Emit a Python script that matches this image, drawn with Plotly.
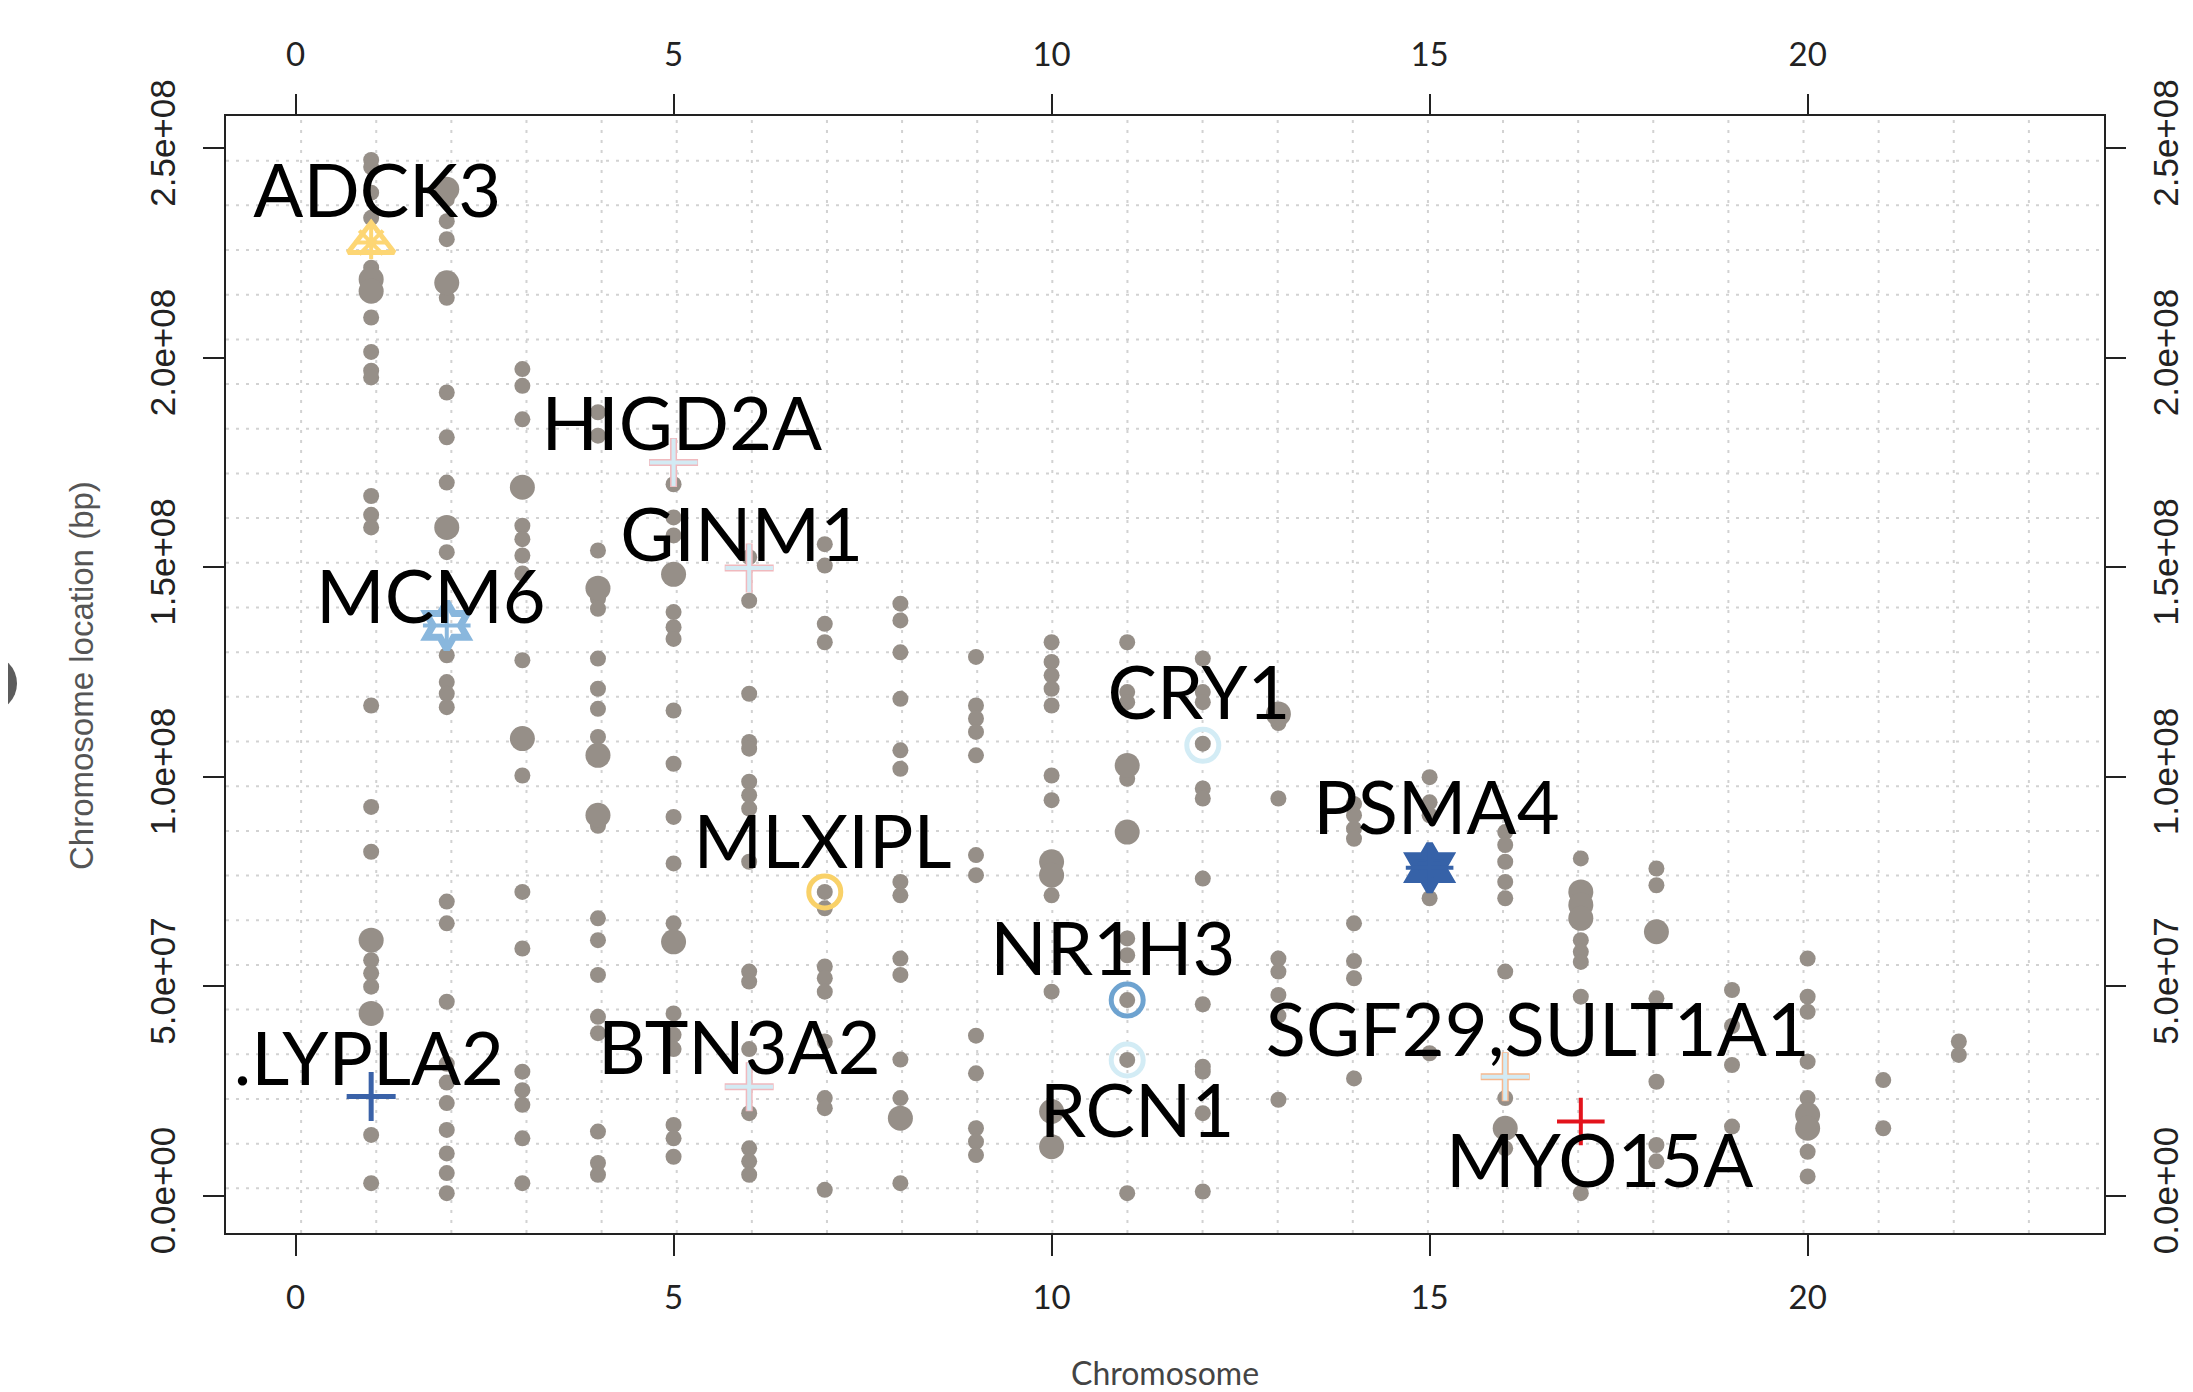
import plotly.graph_objects as go

# ---------------- data ----------------
# background loci per chromosome (position in Mb); "small" and "large" dots
small_mb = [
    [247.2, 245.5, 239.4, 233.4, 221.5, 209.6, 201.4, 196.9, 195.3, 167.0, 162.5, 159.5, 117.0, 92.8, 82.1, 56.2, 53.1, 49.9, 14.5, 3.0],
    [237.8, 232.6, 228.3, 214.3, 191.7, 181.0, 170.2, 153.6, 129.0, 122.6, 119.8, 116.6, 70.2, 65.0, 46.3, 31.5, 27.0, 22.1, 15.7, 10.1, 5.4, 0.6],
    [197.3, 193.3, 185.3, 159.9, 156.7, 152.8, 148.5, 127.8, 100.3, 72.5, 59.0, 29.6, 25.2, 21.7, 13.7, 3.0],
    [187.0, 181.4, 154.0, 142.5, 140.1, 128.2, 121.0, 116.2, 109.5, 88.3, 66.2, 61.0, 52.7, 42.7, 38.8, 15.3, 7.8, 5.0],
    [169.8, 161.9, 157.6, 139.3, 135.7, 132.9, 115.8, 103.1, 90.4, 79.3, 65.0, 43.5, 38.4, 35.0, 16.9, 13.7, 9.3],
    [152.4, 142.0, 119.8, 108.3, 106.7, 98.8, 95.6, 92.4, 79.7, 53.5, 51.1, 35.0, 19.7, 11.3, 8.2, 5.0],
    [155.5, 150.4, 136.5, 132.1, 72.5, 68.6, 54.7, 51.9, 48.7, 36.8, 23.3, 20.9, 1.4],
    [141.3, 137.3, 129.7, 118.6, 106.3, 101.9, 74.9, 71.7, 56.6, 52.7, 32.5, 23.3, 3.0],
    [128.6, 117.0, 113.9, 110.7, 105.1, 81.3, 76.5, 38.2, 29.2, 16.1, 12.9, 9.7],
    [132.1, 127.4, 124.2, 121.0, 117.0, 100.3, 94.4, 71.7, 48.7],
    [132.1, 120.2, 117.8, 99.5, 61.4, 57.4, 46.7, 32.4, 0.6],
    [128.2, 120.2, 117.8, 107.9, 97.2, 94.8, 75.7, 45.7, 30.8, 29.6, 19.7, 1.0],
    [112.8, 94.8, 56.6, 53.5, 47.9, 43.0, 22.9],
    [93.5, 90.8, 87.6, 85.2, 65.0, 56.0, 51.9, 28.0],
    [99.9, 93.9, 90.8, 71.0, 34.0],
    [86.8, 83.7, 79.7, 74.9, 71.0, 53.5, 23.3, 11.3],
    [80.5, 61.0, 58.2, 55.8, 47.5, 0.6],
    [78.1, 74.1, 47.1, 27.2, 12.1, 8.2],
    [49.1, 40.5, 31.2, 16.5],
    [56.6, 47.5, 43.9, 32.0, 23.3, 10.5, 4.6],
    [27.6, 16.1],
    [36.8, 33.6],
]
large_mb = [
    [218.7, 215.9, 61.0, 43.5],
    [240.2, 217.9, 159.5],
    [169.1, 109.1],
    [145.0, 105.1, 90.8],
    [148.3, 60.6],
    [], [], [18.5], [],
    [79.7, 76.5, 20.1, 11.7],
    [102.7, 86.8],
    [], [115.0], [], [],
    [16.1],
    [72.5, 69.4, 66.2],
    [63.0],
    [], [19.3, 16.1], [], [],
]

# highlighted genes
gene_names = ["ADCK3", "MCM6", "PSMA4", "HIGD2A", "GINM1", "BTN3A2", "SGF29,SULT1A1",
              "LYPLA2", "MYO15A", "MLXIPL", "NR1H3", "RCN1", "CRY1"]
gene_labels = ["ADCK3", "MCM6", "PSMA4", "HIGD2A", "GINM1", "BTN3A2", "SGF29,SULT1A1",
               ".LYPLA2", "MYO15A", "MLXIPL", "NR1H3", "RCN1", "CRY1"]
gene_chrom = [1, 2, 15, 5, 6, 6, 16, 1, 17, 7, 11, 11, 12]
gene_mb = [227.5, 136.1, 78.3, 175.0, 149.8, 26.0, 28.4, 23.7, 17.7, 72.5, 46.7, 32.4, 107.5]
# label anchor (chromosome units, Mb)
label_x = [1.08, 1.79, 15.09, 5.11, 5.90, 5.87, 16.43, 0.97, 17.25, 6.97, 10.81, 11.13, 11.95]
label_mb = [237.9, 141.1, 90.8, 182.4, 155.8, 33.4, 37.7, 30.8, 6.6, 82.6, 57.2, 18.4, 118.3]

x_ticks = [0, 5, 10, 15, 20]
y_ticks = [0, 5e7, 1e8, 1.5e8, 2e8, 2.5e8]
y_ticktext = [f"{v:.1e}" for v in y_ticks]

X_RANGE = [-0.92, 23.92]
Y_RANGE = [-8.9e6, 257.7e6]

# ---------------- figure ----------------
fig = go.Figure()

GRAY = "rgb(150,143,136)"
sx, sy, lx, ly = [], [], [], []
for i, lst in enumerate(small_mb):
    for v in lst:
        sx.append(i + 1)
        sy.append(v * 1e6)
for i, lst in enumerate(large_mb):
    for v in lst:
        lx.append(i + 1)
        ly.append(v * 1e6)

fig.add_trace(go.Scatter(x=sx, y=sy, mode="markers", hoverinfo="skip",
                         marker=dict(color=GRAY, size=16, line=dict(width=0))))
fig.add_trace(go.Scatter(x=lx, y=ly, mode="markers", hoverinfo="skip",
                         marker=dict(color=GRAY, size=25, line=dict(width=0))))

# marker styles per gene: list of (symbol, size, color, linewidth)
LB = "#d3ebf4"
PINK = "#f0b9be"
styles = {
    "ADCK3": [("triangle-up-open", 40, "#fdd674", 5), ("asterisk-open", 28, "#fdd674", 4)],
    "MCM6": [("hexagram-open", 36, "#89b7dd", 7), ("cross-thin-open", 34, "#89b7dd", 4)],
    "PSMA4": [("hexagram", 30, "#3662a8", 7), ("hexagram-open", 36, "#3662a8", 7),
              ("cross-thin-open", 34, "#3662a8", 4)],
    "HIGD2A": [("cross-thin-open", 35, PINK, 7), ("cross-thin-open", 34, LB, 4)],
    "GINM1": [("cross-thin-open", 35, PINK, 7), ("cross-thin-open", 34, LB, 4)],
    "BTN3A2": [("cross-thin-open", 35, PINK, 7), ("cross-thin-open", 34, LB, 4)],
    "SGF29,SULT1A1": [("cross-thin-open", 35, "#f6b88e", 7), ("cross-thin-open", 34, LB, 4)],
    "LYPLA2": [("cross-thin-open", 35, "#3a62a8", 5)],
    "MYO15A": [("cross-thin-open", 34, "#e3131c", 4)],
    "MLXIPL": [("circle-open", 32, "#f9d168", 5)],
    "NR1H3": [("circle-open", 32, "#6ea3d0", 5)],
    "RCN1": [("circle-open", 32, "#d3ecf5", 5)],
    "CRY1": [("circle-open", 32, "#d3ecf5", 5)],
}
for name, c, v in zip(gene_names, gene_chrom, gene_mb):
    for sym, size, col, lw in styles[name]:
        fig.add_trace(go.Scatter(x=[c], y=[v * 1e6], mode="markers", hoverinfo="skip",
                                 marker=dict(symbol=sym, size=size, color=col,
                                             line=dict(color=col, width=lw))))

# gene labels on the top/right axes pair (identical ranges)
fig.add_trace(go.Scatter(x=label_x, y=[v * 1e6 for v in label_mb], mode="text",
                         text=gene_labels, textposition="middle center",
                         textfont=dict(family="Lato", size=74, color="black"),
                         hoverinfo="skip", cliponaxis=False,
                         xaxis="x2", yaxis="y2"))

# dotted grid (25 equal cells in each direction)
shapes = []
for k in range(1, 25):
    gx = X_RANGE[0] + k * (X_RANGE[1] - X_RANGE[0]) / 25
    gy = Y_RANGE[0] + k * (Y_RANGE[1] - Y_RANGE[0]) / 25
    shapes.append(dict(type="line", xref="x", yref="y", x0=gx, x1=gx, y0=Y_RANGE[0], y1=Y_RANGE[1],
                       line=dict(color="#d2d2d2", width=2, dash="3px,7px"), layer="below"))
    shapes.append(dict(type="line", xref="x", yref="y", x0=X_RANGE[0], x1=X_RANGE[1], y0=gy, y1=gy,
                       line=dict(color="#d2d2d2", width=2, dash="3px,7px"), layer="below"))

# page-pixel -> paper helpers (plot area: x 226..2104, y 116..1233 in page pixels)
PW, PH, L0, B0 = 1878.0, 1117.0, 226.0, 1233.0
def px(x):
    return (x - L0) / PW
def py(y):
    return (B0 - y) / PH

# pieces of a neighbouring graphic cut at the left edge
shapes.append(dict(type="circle", xref="paper", yref="paper", x0=px(-40), x1=px(17), y0=py(712), y1=py(655),
                   fillcolor="#5c5c5c", line=dict(width=0)))
shapes.append(dict(type="circle", xref="paper", yref="paper", x0=px(-462), x1=px(4), y0=py(1069), y1=py(603),
                   line=dict(color="#444444", width=3)))

axis_common = dict(ticks="outside", ticklen=21, tickwidth=2, tickcolor="#222",
                   showgrid=False, zeroline=False, automargin=False)
xfont = dict(family="Lato", size=33, color="#222")
yfont = dict(family="Liberation Sans", size=35, color="#222")

# the page body has an 8px margin, so the figure is sized/offset accordingly
fig.update_layout(
    width=2185, height=1384,
    margin=dict(l=218, r=89, t=108, b=159),
    paper_bgcolor="white", plot_bgcolor="white",
    showlegend=False,
    shapes=shapes,
    xaxis=dict(range=X_RANGE, tickvals=x_ticks, tickfont=xfont, showline=True, linecolor="#222",
               linewidth=2, mirror=True, ticklabelstandoff=13, **axis_common),
    xaxis2=dict(range=X_RANGE, tickvals=x_ticks, tickfont=xfont, overlaying="x", side="top",
                anchor="y", showline=False, ticklabelstandoff=15, **axis_common),
    yaxis=dict(range=Y_RANGE, tickvals=y_ticks, ticktext=y_ticktext, tickangle=-90, tickfont=yfont,
               showline=True, linecolor="#222", linewidth=2, mirror=True, ticklabelstandoff=14,
               **axis_common),
    yaxis2=dict(range=Y_RANGE, tickvals=y_ticks, ticktext=y_ticktext, tickangle=-90, tickfont=yfont,
                overlaying="y", side="right", anchor="x", showline=False, ticklabelstandoff=10,
                **axis_common),
    annotations=[
        dict(text="Chromosome location (bp)", xref="paper", yref="paper", x=px(82), y=py(676),
             textangle=-90, showarrow=False, xanchor="center", yanchor="middle",
             font=dict(family="Liberation Sans", size=33, color="#555")),
        dict(text="Chromosome", xref="paper", yref="paper", x=0.5, y=py(1372),
             showarrow=False, xanchor="center", yanchor="middle",
             font=dict(family="Lato", size=32, color="#444")),
    ],
)

fig.write_html("out.html")
